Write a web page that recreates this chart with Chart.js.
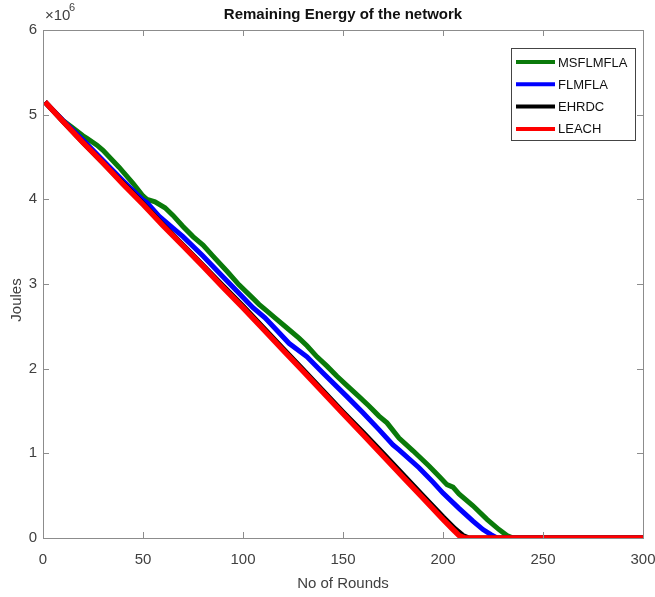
<!DOCTYPE html>
<html>
<head>
<meta charset="utf-8">
<script src="https://cdn.jsdelivr.net/npm/chart.js@4"></script>
<style>
  html, body { margin: 0; padding: 0; background: #fff; }
  #wrap { width: 655px; height: 597px; }
</style>
</head>
<body>
<div id="wrap"><canvas id="energyChart" width="655" height="597"></canvas></div>
<script>
// Remaining energy (x10^6 J) per round for each protocol
const msflmflaRounds = [1, 10, 14, 20, 22, 27, 30, 38, 45, 50, 52, 56, 61, 65, 70, 75, 80, 85, 92, 98, 105, 108, 111, 116, 122, 128, 132, 137, 142, 147, 152, 158, 163, 168, 172, 178, 185, 193, 198, 202, 205, 208, 215, 222, 228, 232, 235, 300];
const msflmflaEnergy = [5.15, 4.93, 4.86, 4.75, 4.72, 4.64, 4.58, 4.38, 4.19, 4.04, 4.00, 3.97, 3.90, 3.81, 3.68, 3.56, 3.46, 3.33, 3.15, 2.99, 2.83, 2.76, 2.70, 2.60, 2.48, 2.36, 2.27, 2.14, 2.03, 1.91, 1.80, 1.67, 1.56, 1.44, 1.36, 1.18, 1.03, 0.85, 0.73, 0.63, 0.60, 0.52, 0.38, 0.22, 0.10, 0.03, 0, 0];

const flmflaRounds = [1, 10, 20, 30, 40, 50, 52, 58, 65, 70, 80, 89, 98, 105, 111, 117, 123, 132, 140, 152, 160, 168, 175, 178, 188, 195, 200, 208, 215, 220, 224, 227, 300];
const flmflaEnergy = [5.15, 4.93, 4.70, 4.46, 4.22, 3.99, 3.96, 3.80, 3.66, 3.56, 3.33, 3.11, 2.89, 2.72, 2.60, 2.45, 2.30, 2.14, 1.95, 1.67, 1.48, 1.28, 1.10, 1.04, 0.83, 0.66, 0.53, 0.35, 0.20, 0.10, 0.04, 0, 0];

const ehrdcRounds = [1, 10, 20, 30, 40, 50, 60, 70, 80, 90, 100, 110, 120, 130, 140, 150, 160, 170, 180, 190, 200, 206, 210, 213, 300];
const ehrdcEnergy = [5.15, 4.92, 4.67, 4.43, 4.19, 3.95, 3.70, 3.46, 3.22, 2.98, 2.74, 2.49, 2.24, 1.99, 1.74, 1.49, 1.25, 1.00, 0.75, 0.50, 0.25, 0.11, 0.03, 0, 0];

const leachRounds = [1, 10, 20, 30, 40, 50, 60, 70, 80, 90, 100, 110, 120, 130, 140, 150, 160, 170, 180, 190, 200, 205, 208, 211, 300];
const leachEnergy = [5.15, 4.92, 4.67, 4.43, 4.18, 3.94, 3.69, 3.45, 3.21, 2.96, 2.72, 2.47, 2.22, 1.97, 1.72, 1.47, 1.22, 0.97, 0.72, 0.47, 0.22, 0.10, 0.03, 0, 0];

const xTicks = [0, 50, 100, 150, 200, 250, 300];
const yTicks = [0, 1, 2, 3, 4, 5, 6];

const toPoints = (xs, ys) => xs.map((x, i) => ({ x: x, y: ys[i] * 1e6 }));

const fontFamily = "'Liberation Sans', Arial, sans-serif";
const tickFont = { family: fontFamily, size: 15 };
const textColor = '#404040';
const axisColor = '#8c8c8c';

// Box around the axes with inward ticks, titles and the exponent label
const matlabAxes = {
    id: 'matlabAxes',
    afterDraw(chart) {
        const ctx = chart.ctx;
        const a = chart.chartArea;
        const xs = chart.scales.x, ys = chart.scales.y;
        ctx.save();
        ctx.strokeStyle = axisColor;
        ctx.lineWidth = 1;
        ctx.strokeRect(Math.round(a.left) + 0.5, Math.round(a.top) + 0.5,
                       Math.round(a.right - a.left), Math.round(a.bottom - a.top));
        ctx.beginPath();
        xTicks.forEach(v => {
            const px = Math.round(xs.getPixelForValue(v)) + 0.5;
            ctx.moveTo(px, a.bottom); ctx.lineTo(px, a.bottom - 6);
            ctx.moveTo(px, a.top); ctx.lineTo(px, a.top + 6);
        });
        yTicks.forEach(v => {
            const py = Math.round(ys.getPixelForValue(v * 1e6)) + 0.5;
            ctx.moveTo(a.left, py); ctx.lineTo(a.left + 6, py);
            ctx.moveTo(a.right, py); ctx.lineTo(a.right - 6, py);
        });
        ctx.stroke();

        ctx.fillStyle = '#111';
        ctx.textAlign = 'center';
        ctx.textBaseline = 'middle';
        ctx.font = 'bold 15px ' + fontFamily;
        ctx.fillText('Remaining Energy of the network', (a.left + a.right) / 2, 15);

        ctx.fillStyle = textColor;
        ctx.font = '15px ' + fontFamily;
        ctx.fillText('No of Rounds', (a.left + a.right) / 2, 584);

        ctx.save();
        ctx.translate(17, 300);
        ctx.rotate(-Math.PI / 2);
        ctx.fillText('Joules', 0, 0);
        ctx.restore();

        ctx.textAlign = 'left';
        ctx.font = '15px ' + fontFamily;
        ctx.fillText('\u00d710', 45, 16);
        ctx.font = '11px ' + fontFamily;
        ctx.fillText('6', 69, 8);
        ctx.restore();
    }
};

// Legend box in the upper right corner of the axes
const legendBox = {
    id: 'legendBox',
    afterDraw(chart) {
        const ctx = chart.ctx;
        ctx.save();
        ctx.fillStyle = '#fff';
        ctx.fillRect(511, 48, 124, 92);
        ctx.strokeStyle = '#444';
        ctx.lineWidth = 1;
        ctx.strokeRect(511.5, 48.5, 124, 92);
        ctx.font = '13px ' + fontFamily;
        ctx.textBaseline = 'middle';
        ctx.textAlign = 'left';
        chart.data.datasets.forEach((ds, i) => {
            const y = 62 + i * 22.3;
            ctx.strokeStyle = ds.borderColor;
            ctx.lineWidth = 4;
            ctx.beginPath();
            ctx.moveTo(516, y); ctx.lineTo(555, y);
            ctx.stroke();
            ctx.fillStyle = '#111';
            ctx.fillText(ds.label, 558, y + 1);
        });
        ctx.restore();
    }
};

const lineStyle = { borderWidth: 5, pointRadius: 0, tension: 0, fill: false };

new Chart(document.getElementById('energyChart').getContext('2d'), {
    type: 'line',
    data: {
        datasets: [
            Object.assign({ label: 'MSFLMFLA', data: toPoints(msflmflaRounds, msflmflaEnergy), borderColor: '#0a7a0a', order: 4 }, lineStyle),
            Object.assign({ label: 'FLMFLA', data: toPoints(flmflaRounds, flmflaEnergy), borderColor: '#0000ff', order: 3 }, lineStyle),
            Object.assign({ label: 'EHRDC', data: toPoints(ehrdcRounds, ehrdcEnergy), borderColor: '#000000', order: 2 }, lineStyle),
            Object.assign({ label: 'LEACH', data: toPoints(leachRounds, leachEnergy), borderColor: '#ff0000', order: 1 }, lineStyle, { borderWidth: 5.5 })
        ]
    },
    options: {
        responsive: false,
        animation: false,
        layout: { padding: { left: 0, right: 0, top: 30, bottom: 0 } },
        plugins: {
            legend: { display: false },
            title: { display: false },
            tooltip: { enabled: false }
        },
        scales: {
            x: {
                type: 'linear',
                min: 0,
                max: 300,
                afterFit: s => { s.height = 59; s.paddingLeft = 0; s.paddingRight = 12; },
                afterBuildTicks: s => { s.ticks = xTicks.map(v => ({ value: v })); },
                grid: { display: false, drawTicks: false },
                border: { display: false },
                ticks: { color: textColor, font: tickFont, padding: 13, maxRotation: 0 }
            },
            y: {
                min: 0,
                max: 6e6,
                afterFit: s => { s.width = 43; s.paddingTop = 0; s.paddingBottom = 0; },
                afterBuildTicks: s => { s.ticks = yTicks.map(v => ({ value: v * 1e6 })); },
                grid: { display: false, drawTicks: false },
                border: { display: false },
                ticks: { color: textColor, font: tickFont, padding: 6, callback: v => String(v / 1e6) }
            }
        }
    },
    plugins: [matlabAxes, legendBox]
});
</script>
</body>
</html>
